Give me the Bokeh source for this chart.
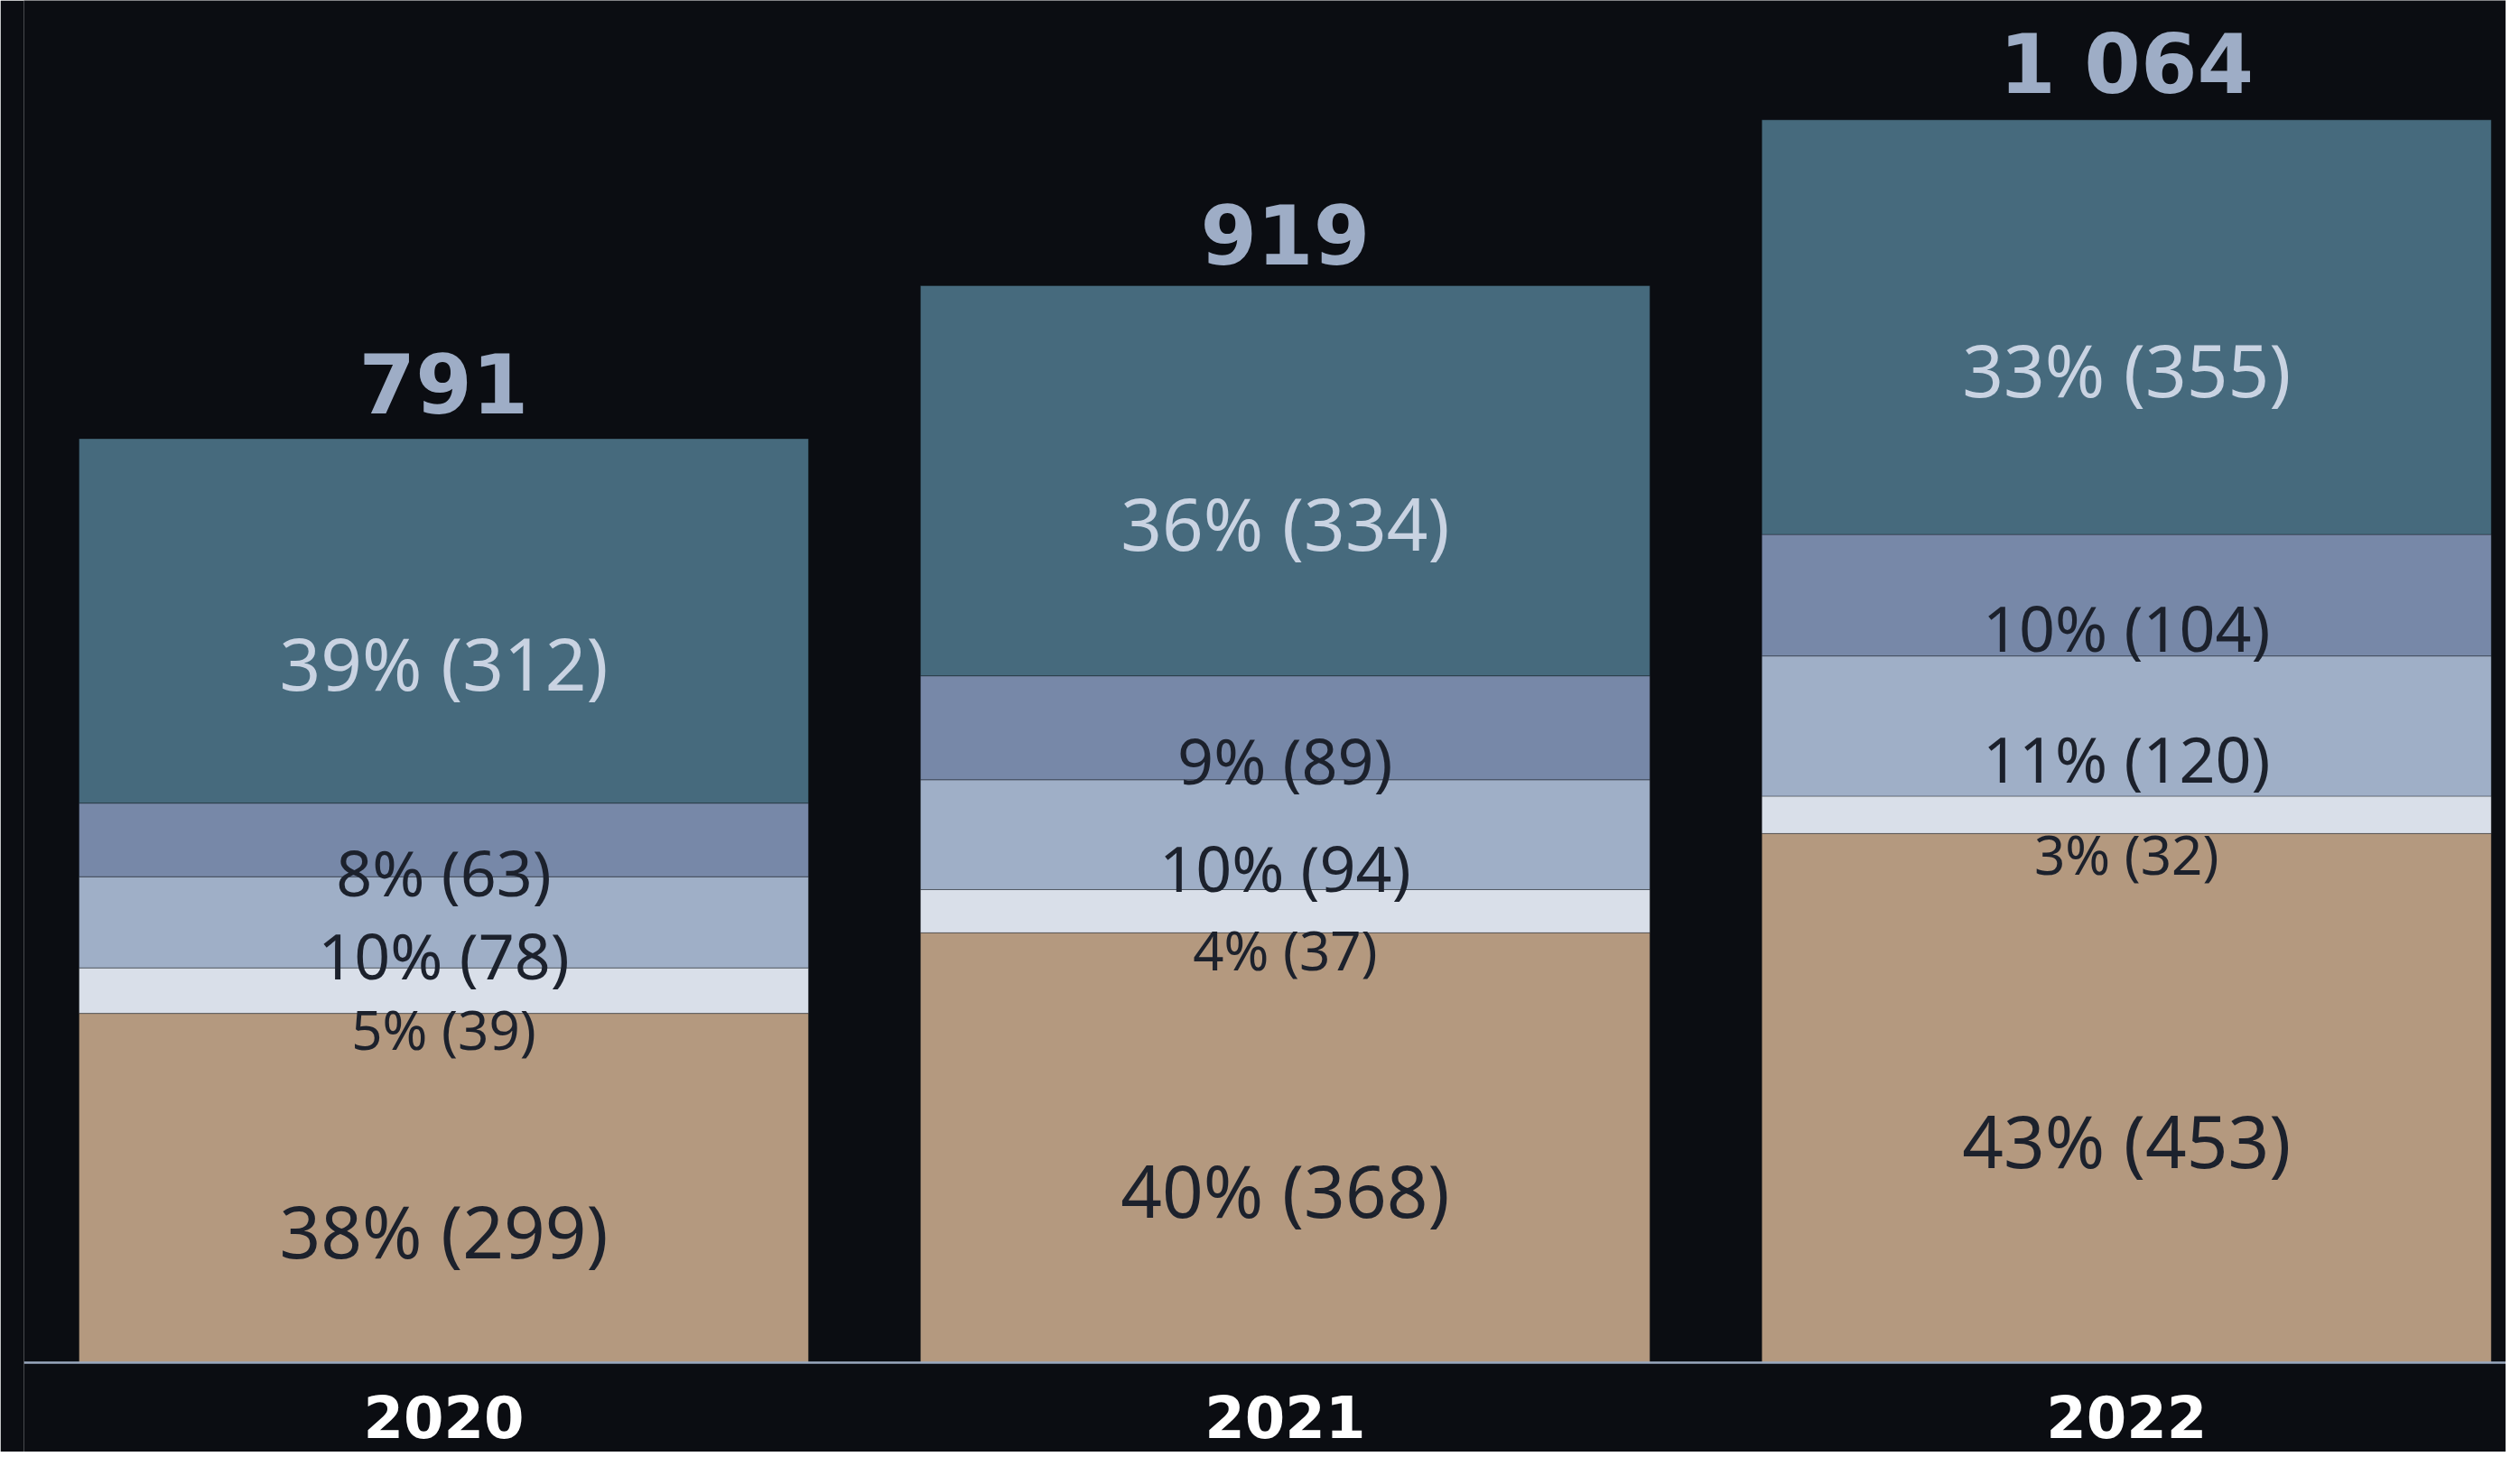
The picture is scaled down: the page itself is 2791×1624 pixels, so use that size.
from bokeh.plotting import figure
from bokeh.models import Range1d, Span, ColumnDataSource
from bokeh.core.properties import value
from bokeh.embed import file_html
from bokeh.resources import INLINE

# ---- data ----
years = ["2020", "2021", "2022"]
totals = [791, 919, 1064]

# stacked series, bottom to top
seg_tan = [299, 368, 453]
seg_white = [39, 37, 32]
seg_light = [78, 94, 120]
seg_mid = [63, 89, 104]
seg_teal = [312, 334, 355]

pct_tan = [38, 40, 43]
pct_white = [5, 4, 3]
pct_light = [10, 10, 11]
pct_mid = [8, 9, 10]
pct_teal = [39, 36, 33]

series = [seg_tan, seg_white, seg_light, seg_mid, seg_teal]
percents = [pct_tan, pct_white, pct_light, pct_mid, pct_teal]

# ---- styles ----
BG = "#0B0D12"
colors = ["#B4997F", "#D9DFE9", "#9FAFC7", "#7788A8", "#466A7D"]
label_colors = ["#1C212C", "#1C212C", "#1C212C", "#1C212C", "#C9D3E2"]
label_sizes = ["80px", "60px", "70px", "70px", "80px"]
label_offsets = [46, 43, 36, 36, 46]

xs = list(range(len(years)))
BAR_W = 0.867

p = figure(
    width=2775, height=1608,
    x_range=Range1d(-0.499, 2.451),
    y_range=Range1d(-76.5, 1166.2),
    x_axis_location=None, y_axis_location=None,
    toolbar_location=None, output_backend="svg",
    min_border_left=26, min_border_right=0, min_border_top=0, min_border_bottom=0,
    background_fill_color=BG, border_fill_color=BG,
    outline_line_color=None,
)
p.xgrid.grid_line_color = None
p.ygrid.grid_line_color = None

bottoms = [0] * len(years)
for vals, pcts, col, lcol, lsize, loff in zip(series, percents, colors, label_colors, label_sizes, label_offsets):
    tops = [b + v for b, v in zip(bottoms, vals)]
    src = ColumnDataSource(dict(
        x=xs, bottom=bottoms, top=tops,
        mid=[(b + t) / 2 for b, t in zip(bottoms, tops)],
        text=[f"{pc}% ({v})" for pc, v in zip(pcts, vals)],
    ))
    p.vbar(x="x", width=BAR_W, bottom="bottom", top="top", source=src,
           fill_color=col, line_color=BG, line_alpha=0.35, line_width=1)
    p.text(x="x", y="mid", text="text", source=src,
           text_font=value("Noto Sans"), text_font_size=lsize,
           text_color=lcol, text_align="center", text_baseline="alphabetic",
           y_offset=loff)
    bottoms = tops

# totals above bars
tot_src = ColumnDataSource(dict(
    x=xs, y=totals,
    text=[f"{t:,}".replace(",", " ") for t in totals],
))
p.text(x="x", y="y", text="text", source=tot_src,
       text_font=value("DejaVu Sans"), text_font_style="bold",
       text_font_size="90px", text_color="#9EADC6",
       text_align="center", text_baseline="alphabetic", y_offset=-61)

# baseline (axis line)
p.add_layout(Span(location=0, dimension="width", line_color="#9AA8BF", line_width=2.5))

# category labels
yr_src = ColumnDataSource(dict(x=xs, y=[0] * len(years), text=years))
p.text(x="x", y="y", text="text", source=yr_src,
       text_font=value("DejaVu Sans"), text_font_style="bold",
       text_font_size="64px", text_color="#FFFFFF",
       text_align="center", text_baseline="alphabetic", y_offset=60)

open("out.html", "w").write(file_html(p, INLINE))
